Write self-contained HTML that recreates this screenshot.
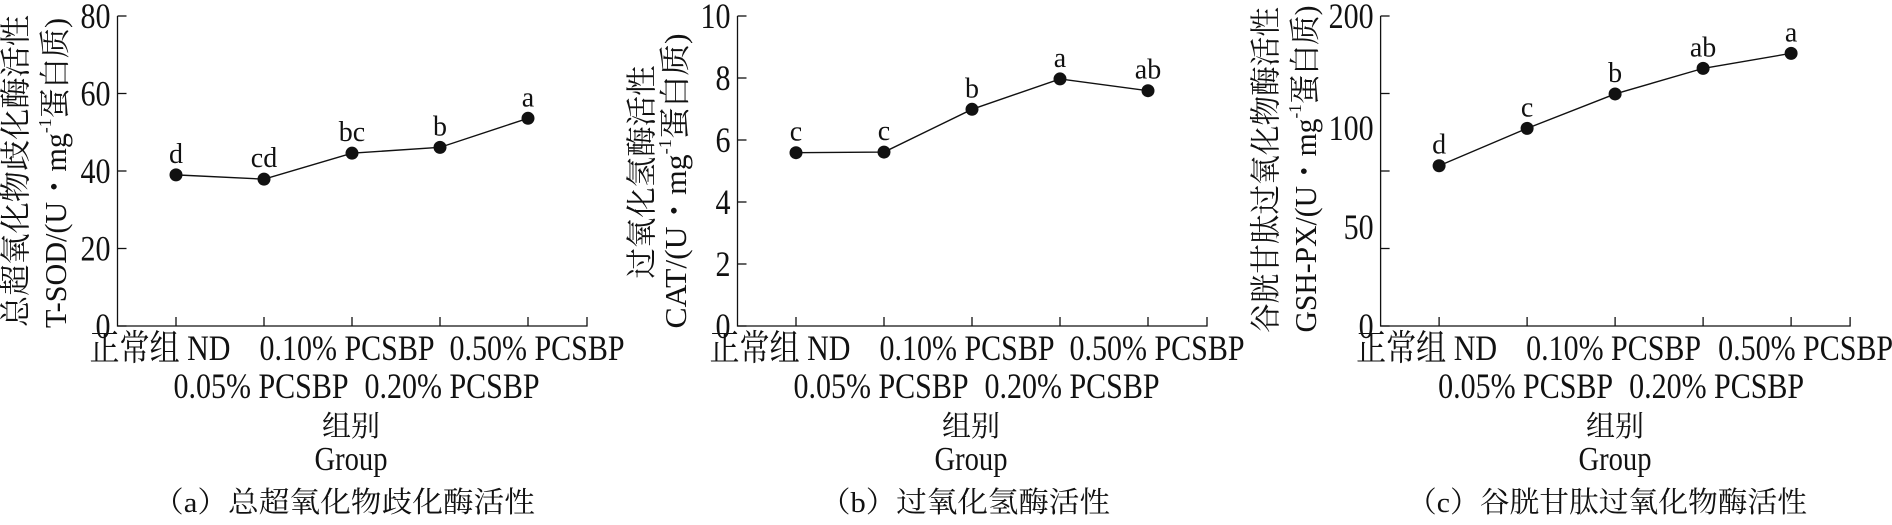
<!DOCTYPE html>
<html><head><meta charset="utf-8">
<style>
html,body{margin:0;padding:0;background:#fff;}
svg{display:block;}
text{font-family:"Liberation Serif","Noto Serif CJK SC","Noto Sans CJK SC",serif;fill:#111;}
</style></head>
<body>
<svg id="chart" width="1892" height="525" viewBox="0 0 1892 525" xmlns="http://www.w3.org/2000/svg"></svg>
<script>
const categories = ["正常组 ND","0.05% PCSBP","0.10% PCSBP","0.20% PCSBP","0.50% PCSBP"];
const sodValues = [39.0, 37.9, 44.6, 46.1, 53.6];
const sodLetters = ["d","cd","bc","b","a"];
const sodTicks = [0,20,40,60,80];
const catValues = [5.59, 5.61, 6.99, 7.97, 7.59];
const catLetters = ["c","c","b","a","ab"];
const catTicks = [0,2,4,6,8,10];
const gshValues = [103.4, 127.5, 149.7, 166.2, 175.9];
const gshLetters = ["d","c","b","ab","a"];
const gshTickValues = [0,50,100,150,200];
const gshTickLabels = ["0","50","100","","200"];

const NS="http://www.w3.org/2000/svg";
const svg=document.getElementById('chart');
function mk(tag,attrs,parent){const e=document.createElementNS(NS,tag);for(const k in attrs)e.setAttribute(k,attrs[k]);(parent||svg).appendChild(e);return e;}

function panel(o){
  const g=mk('g',{});
  
  
  const ax=o.ax, y0=326, yTop=16, xEnd=o.ax+469.5;
  const ys=v=>y0-(v-o.min)/(o.max-o.min)*(y0-yTop);
  const xs=i=>ax+58.5+i*88;
  const axis=mk('path',{d:`M${ax},${yTop} L${ax},${y0} L${xEnd},${y0} L${xEnd},${y0-9}`,fill:'none',stroke:'#111','stroke-width':1.3},g);
  
  
  o.tickVals.forEach((v,i)=>{
    const t=mk('line',{x1:ax,x2:ax+9,y1:ys(v),y2:ys(v),stroke:'#111','stroke-width':1.3},g);
    
    
    const lab=o.tickLabels[i];
    if(lab!==''){
      const ly=o.labelY?o.labelY[i]:ys(v);
      const tx=mk('text',{x:ax-7,y:ly+12,'text-anchor':'end','font-size':36,textLength:15*lab.length,lengthAdjust:'spacingAndGlyphs'},g);
      tx.textContent=lab;
      
      
    }
  });
  categories.forEach((c,i)=>{
    const t=mk('line',{x1:xs(i),x2:xs(i),y1:y0,y2:y0-9,stroke:'#111','stroke-width':1.3},g);
    
    
    const row=i%2;
    const cx=ax+o.labelCenters[i];
    const tx=mk('text',{x:cx,y:row?398:360,'text-anchor':'middle','font-size':36,textLength:i==0?141:175,lengthAdjust:'spacingAndGlyphs'},g);
    tx.textContent=c;
    
    
  });
  const pts=o.values.map((v,i)=>xs(i)+','+ys(v)).join(' ');
  const line=mk('polyline',{points:pts,fill:'none',stroke:'#111','stroke-width':1.4},g);
  
  
  o.values.forEach((v,i)=>{
    const p=mk('circle',{cx:xs(i),cy:ys(v),r:6.5,fill:'#111'},g);
    
    
    const l=mk('text',{x:xs(i),y:ys(v)-12,'text-anchor':'middle','font-size':28},g);
    l.textContent=o.letters[i];
    
    
  });
  o.ylab.forEach((yl,k)=>{
    const t=mk('text',{transform:`translate(${yl.x},${yl.y}) rotate(-90)`,'text-anchor':'middle','dominant-baseline':'central','font-size':31,textLength:yl.len,lengthAdjust:'spacingAndGlyphs'},g);
    if(k===0){t.textContent=yl.t;}
    else{
      const [a,b]=yl.t.split('^');
      const s1=mk('tspan',{},t);s1.textContent=a;
      const s2=mk('tspan',{'font-size':18,dy:-10},t);s2.textContent='-1';
      const s3=mk('tspan',{dy:10},t);s3.textContent=b;
    }
    
    
  });
  const cx=ax+o.titleCx;
  const x1=mk('text',{x:cx,y:436,'text-anchor':'middle','font-size':29},g);
  x1.textContent='组别';
  
  
  const x2=mk('text',{x:cx,y:470,'text-anchor':'middle','font-size':34,textLength:73,lengthAdjust:'spacingAndGlyphs'},g);
  x2.textContent='Group';
  
  
  const cap=mk('text',{x:ax+o.capCx,y:512,'text-anchor':'middle','font-size':29,textLength:o.capLen,lengthAdjust:'spacingAndGlyphs'},g);
  cap.textContent=o.caption;
  
  
}

panel({name:'panel-sod',ax:117.5,min:0,max:80,tickVals:sodTicks,tickLabels:sodTicks.map(String),values:sodValues,letters:sodLetters,
  labelCenters:[42.5,143.5,229.5,334.5,419.5],titleCx:233.5,capCx:226.5,capLen:382,caption:'（a）总超氧化物歧化酶活性',
  ylab:[{x:16,y:171,len:312,t:'总超氧化物歧化酶活性'},{x:55,y:173,len:310,t:'T-SOD/(U・mg^蛋白质)'}]});
panel({name:'panel-cat',ax:737.5,min:0,max:10,tickVals:catTicks,tickLabels:catTicks.map(String),values:catValues,letters:catLetters,
  labelCenters:[42.5,143.5,229.5,334.5,419.5],titleCx:233.5,capCx:227.5,capLen:290,caption:'（b）过氧化氢酶活性',
  ylab:[{x:642,y:172,len:213,t:'过氧化氢酶活性'},{x:675,y:181,len:295,t:'CAT/(U・mg^蛋白质)'}]});
panel({name:'panel-gsh',ax:1380.6,min:0,max:200,tickVals:gshTickValues,tickLabels:gshTickLabels,labelY:[326,227,128,94,16],values:gshValues,letters:gshLetters,
  labelCenters:[46,145,233,336,425],titleCx:234.4,capCx:226.4,capLen:400,caption:'（c）谷胱甘肽过氧化物酶活性',
  ylab:[{x:1266,y:170,len:326,t:'谷胱甘肽过氧化物酶活性'},{x:1305,y:169,len:327,t:'GSH-PX/(U・mg^蛋白质)'}]});
</script>
</body></html>
